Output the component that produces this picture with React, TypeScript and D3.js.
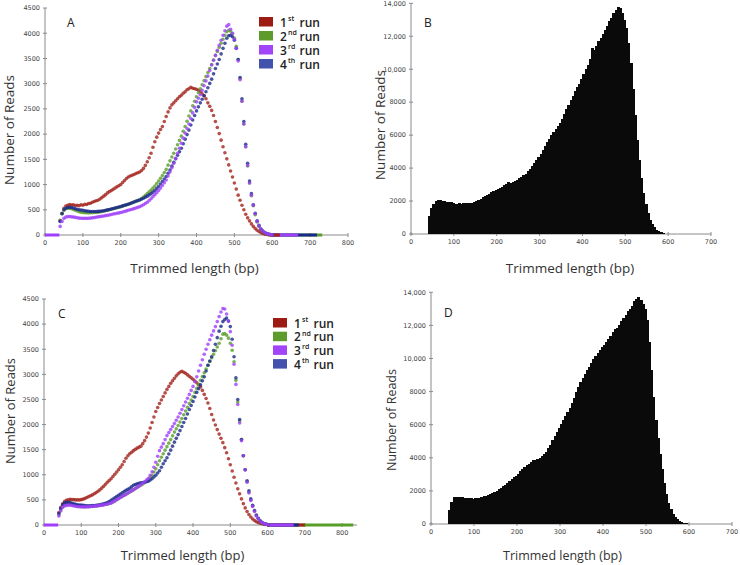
import React from "react";
import * as d3 from "d3";

// read lengths (bp) sampled for the scatter runs, every 5 bp from 40 to 600
const runLengths = d3.range(40, 601, 5);
// histogram bins (bp), 5 bp wide
const binStarts = d3.range(40, 600, 5);

const runLabels = [["1", "st"], ["2", "nd"], ["3", "rd"], ["4", "th"]];
const legendColors = ["#9c1b12", "#5e9b2d", "#a244f7", "#4352ad"];
const pointColors = ["#a3231b", "#5a9e2a", "#a040fb", "#1b2a8c"];

// panel A, number of reads per length
const readsA1 = [
  280, 430, 530, 575, 590, 605, 595, 600, 585, 590,
  580, 600, 590, 610, 605, 625, 630, 650, 665, 680,
  690, 715, 740, 770, 800, 835, 860, 880, 905, 930,
  955, 975, 1000, 1040, 1080, 1120, 1150, 1170, 1185, 1200,
  1220, 1235, 1250, 1280, 1320, 1380, 1450, 1530, 1620, 1740,
  1850, 1940, 2020, 2090, 2150, 2250, 2350, 2440, 2520, 2580,
  2620, 2660, 2700, 2740, 2770, 2810, 2840, 2880, 2900, 2930,
  2910, 2900, 2890, 2870, 2840, 2800, 2760, 2700, 2620, 2550,
  2470, 2370, 2250, 2130, 2010, 1880, 1750, 1630, 1510, 1390,
  1270, 1150, 1030, 910, 790, 690, 590, 500, 410, 340,
  280, 220, 170, 130, 95, 70, 45, 30, 18, 11,
  6, 3, 0,
];
const readsA2 = [
  290, 420, 490, 520, 530, 528, 520, 505, 490, 475,
  460, 450, 445, 442, 440, 438, 440, 442, 445, 448,
  450, 458, 465, 472, 480, 490, 500, 510, 520, 530,
  540, 550, 560, 572, 585, 598, 610, 625, 640, 655,
  670, 685, 700, 725, 750, 785, 820, 855, 890, 930,
  970, 1020, 1070, 1125, 1180, 1240, 1300, 1385, 1470, 1545,
  1620, 1705, 1790, 1875, 1960, 2055, 2150, 2255, 2360, 2460,
  2560, 2650, 2740, 2820, 2900, 2980, 3060, 3140, 3220, 3300,
  3380, 3470, 3560, 3640, 3720, 3800, 3880, 3960, 4030, 4060,
  4040, 3990, 3900, 3740, 3480, 3100, 2650, 2200, 1750, 1370,
  1030, 780, 580, 400, 260, 170, 110, 75, 45, 28,
  15, 9, 5,
];
const readsA3 = [
  170, 270, 330, 355, 365, 365, 360, 355, 350, 342,
  335, 332, 330, 330, 330, 332, 335, 340, 345, 352,
  360, 365, 370, 378, 385, 390, 395, 405, 415, 422,
  430, 438, 445, 455, 465, 478, 490, 500, 510, 522,
  535, 548, 560, 580, 600, 625, 650, 685, 720, 760,
  800, 840, 880, 930, 980, 1035, 1090, 1170, 1250, 1335,
  1420, 1520, 1620, 1720, 1820, 1920, 2020, 2110, 2200, 2310,
  2420, 2530, 2640, 2710, 2780, 2870, 2960, 3055, 3150, 3260,
  3370, 3465, 3560, 3660, 3760, 3860, 3960, 4050, 4140, 4170,
  4080, 4000, 3880, 3700, 3450, 3080, 2650, 2200, 1750, 1380,
  1030, 790, 590, 420, 270, 180, 120, 80, 50, 30,
  18, 10, 6,
];
const readsA4 = [
  270, 420, 500, 530, 545, 548, 545, 535, 520, 510,
  500, 495, 490, 482, 475, 470, 465, 465, 465, 466,
  468, 472, 475, 482, 490, 498, 505, 515, 525, 535,
  545, 555, 565, 578, 590, 600, 610, 625, 640, 655,
  670, 682, 695, 712, 730, 750, 770, 795, 820, 850,
  880, 920, 960, 1010, 1060, 1110, 1160, 1225, 1290, 1365,
  1440, 1510, 1580, 1650, 1720, 1810, 1900, 1990, 2080, 2180,
  2280, 2370, 2460, 2540, 2620, 2690, 2760, 2840, 2920, 3005,
  3090, 3195, 3300, 3390, 3480, 3590, 3700, 3800, 3900, 3950,
  3960, 3930, 3860, 3700, 3480, 3120, 2700, 2250, 1800, 1420,
  1070, 820, 600, 430, 280, 190, 120, 80, 50, 30,
  18, 10, 6,
];

// panel C, number of reads per length
const readsC1 = [
  250, 350, 420, 465, 490, 500, 510, 505, 505, 500,
  500, 500, 505, 515, 530, 548, 565, 582, 600, 622,
  645, 672, 700, 735, 770, 810, 850, 885, 920, 965,
  1010, 1055, 1100, 1150, 1200, 1265, 1330, 1380, 1420, 1450,
  1480, 1505, 1530, 1550, 1570, 1620, 1680, 1750, 1830, 1930,
  2040, 2150, 2260, 2340, 2420, 2490, 2560, 2630, 2700, 2760,
  2820, 2870, 2920, 2970, 3010, 3040, 3060, 3040, 3020, 2990,
  2960, 2930, 2900, 2865, 2830, 2790, 2750, 2680, 2600, 2520,
  2430, 2320, 2200, 2090, 1990, 1900, 1810, 1725, 1640, 1540,
  1440, 1320, 1200, 1075, 950, 835, 720, 620, 520, 425,
  340, 270, 210, 160, 120, 90, 65, 48, 35, 24,
  15, 9, 5,
];
const readsC2 = [
  200, 300, 370, 400, 410, 418, 420, 410, 400, 390,
  380, 375, 370, 368, 365, 365, 365, 368, 370, 375,
  380, 385, 390, 398, 405, 412, 420, 430, 440, 460,
  480, 505, 530, 550, 570, 590, 610, 632, 655, 678,
  700, 725, 750, 770, 790, 815, 840, 870, 900, 945,
  990, 1055, 1120, 1200, 1280, 1350, 1420, 1490, 1560, 1630,
  1700, 1775, 1850, 1915, 1980, 2050, 2120, 2195, 2270, 2345,
  2420, 2490, 2560, 2640, 2720, 2800, 2880, 2955, 3030, 3105,
  3180, 3255, 3330, 3400, 3470, 3545, 3620, 3710, 3800, 3810,
  3780, 3720, 3620, 3480, 3250, 2880, 2450, 2070, 1700, 1380,
  1100, 860, 650, 500, 380, 280, 190, 130, 80, 50,
  30, 18, 10,
];
const readsC3 = [
  180, 280, 350, 380, 390, 395, 395, 388, 380, 372,
  365, 362, 360, 360, 360, 362, 365, 368, 370, 375,
  380, 385, 390, 395, 400, 408, 415, 428, 440, 460,
  480, 502, 525, 548, 570, 590, 610, 635, 660, 680,
  700, 725, 750, 775, 800, 830, 860, 895, 930, 990,
  1060, 1150, 1250, 1370, 1480, 1550, 1620, 1700, 1780, 1840,
  1900, 1960, 2020, 2085, 2150, 2225, 2300, 2375, 2450, 2525,
  2600, 2680, 2760, 2855, 2950, 3065, 3180, 3290, 3400, 3500,
  3600, 3690, 3780, 3865, 3950, 4050, 4150, 4240, 4310, 4300,
  4200, 4060, 3850, 3580, 3200, 2800, 2400, 2030, 1680, 1380,
  1100, 850, 640, 490, 370, 270, 180, 125, 80, 50,
  30, 18, 10,
];
const readsC4 = [
  230, 330, 400, 435, 450, 450, 445, 432, 420, 410,
  400, 398, 395, 390, 385, 382, 380, 382, 385, 388,
  390, 395, 400, 410, 420, 432, 445, 468, 490, 515,
  540, 565, 590, 615, 640, 665, 690, 710, 730, 760,
  790, 805, 820, 830, 840, 845, 850, 860, 870, 895,
  920, 955, 990, 1035, 1080, 1150, 1220, 1280, 1340, 1415,
  1490, 1570, 1650, 1725, 1800, 1880, 1960, 2040, 2120, 2210,
  2300, 2380, 2460, 2550, 2640, 2715, 2790, 2870, 2950, 3065,
  3180, 3265, 3350, 3475, 3600, 3730, 3860, 3955, 4050, 4090,
  4120, 4060, 3950, 3700, 3350, 2930, 2500, 2100, 1700, 1380,
  1100, 880, 680, 520, 390, 290, 200, 135, 85, 55,
  30, 18, 10,
];

// stretches of lengths (bp) where a run sits on zero reads
const zeroRunsA = [
  { run: 2, from: 0, to: 38 },
  { run: 0, from: 590, to: 620 },
  { run: 1, from: 600, to: 732 },
  { run: 3, from: 600, to: 718 },
  { run: 2, from: 600, to: 668 },
];
const zeroRunsC = [
  { run: 2, from: 0, to: 38 },
  { run: 1, from: 600, to: 830 },
  { run: 0, from: 600, to: 700 },
  { run: 3, from: 600, to: 684 },
  { run: 2, from: 600, to: 670 },
];

// panels B and D, histogram counts per 5 bp bin
const readsB = [1100, 1600, 1850, 2000, 2060, 2040, 2000, 1990, 1970, 1960, 1950, 1900, 1830, 1850, 1860, 1850, 1870, 1880, 1860, 1890, 1900, 1960, 2020, 2090, 2150, 2230, 2300, 2380, 2440, 2540, 2620, 2700, 2760, 2820, 2880, 2960, 3050, 3150, 3120, 3180, 3230, 3300, 3380, 3450, 3560, 3660, 3800, 3940, 4100, 4280, 4480, 4680, 4880, 5100, 5320, 5580, 5780, 5980, 6200, 6380, 6560, 6760, 7000, 7280, 7560, 7840, 8120, 8400, 8650, 8900, 9100, 9380, 9700, 10000, 10250, 10600, 11300, 11150, 11400, 11700, 11900, 12150, 12400, 12650, 12900, 13100, 13400, 13600, 13800, 13700, 13400, 13000, 12500, 11600, 10400, 8800, 7200, 5700, 4500, 3400, 2500, 1800, 1250, 850, 580, 400, 260, 160, 100, 55, 25, 10];
const readsD = [850, 1350, 1620, 1660, 1650, 1640, 1620, 1600, 1580, 1560, 1550, 1540, 1550, 1570, 1600, 1630, 1670, 1710, 1760, 1820, 1880, 1940, 2000, 2100, 2190, 2280, 2360, 2460, 2580, 2700, 2820, 2920, 3050, 3180, 3320, 3440, 3550, 3650, 3760, 3840, 3880, 3950, 4010, 4080, 4200, 4380, 4580, 4800, 5050, 5300, 5560, 5820, 6060, 6300, 6540, 6780, 7030, 7300, 7620, 7950, 8250, 8550, 8820, 9050, 9280, 9480, 9700, 9950, 10150, 10350, 10520, 10680, 10820, 11000, 11200, 11380, 11600, 11780, 11850, 12000, 12250, 12450, 12650, 12850, 13000, 13200, 13450, 13600, 13700, 13550, 13300, 13000, 12300, 11000, 9300, 7700, 6300, 5200, 4200, 3300, 2500, 1800, 1250, 880, 600, 430, 300, 200, 130, 75, 35, 12];

const tickFont = "'DejaVu Sans', sans-serif";
const titleFont = "'Open Sans', sans-serif";
const axisColor = "#8a8a8a";

const fmtReads = (v) => (v >= 10000 ? d3.format(",")(v) : String(v));

function Axes({ x, y, xTicks, yTicks, titleX, titleY, titleSize, yTitleX, yTitleY }) {
  const [x0, x1] = x.range();
  const [yb, yt] = y.range();
  return (
    <g>
      <line x1={x0} x2={x1} y1={yb} y2={yb} stroke={axisColor} strokeWidth={1} />
      <line x1={x0} x2={x0} y1={yb} y2={yt} stroke={axisColor} strokeWidth={1} />
      {xTicks.map((t) => (
        <g key={`x${t}`}>
          <line x1={x(t)} x2={x(t)} y1={yb - 2} y2={yb + 2} stroke={axisColor} />
          <text x={x(t)} y={yb + 10} textAnchor="middle" fontSize={6.5} fontFamily={tickFont} fill="#444">
            {t}
          </text>
        </g>
      ))}
      {yTicks.map((t) => (
        <g key={`y${t}`}>
          <line x1={x0 - 2} x2={x0 + 2} y1={y(t)} y2={y(t)} stroke={axisColor} />
          <text x={x0 - 5} y={y(t) + 2.3} textAnchor="end" fontSize={6.5} fontFamily={tickFont} fill="#444">
            {fmtReads(t)}
          </text>
        </g>
      ))}
      <text x={(x0 + x1) / 2 + titleX} y={titleY} textAnchor="middle" fontSize={titleSize} fontFamily={titleFont} fill="#333">
        Trimmed length (bp)
      </text>
      <text
        transform={`translate(${yTitleX},${yTitleY}) rotate(-90)`}
        textAnchor="middle"
        fontSize={titleSize}
        fontFamily={titleFont}
        fill="#333"
      >
        Number of Reads
      </text>
    </g>
  );
}

function ScatterPanel({ letter, left, right, top, bottom, xMax, runs, zeroRuns, legend, titles }) {
  const x = d3.scaleLinear().domain([0, xMax]).range([left, right]);
  const y = d3.scaleLinear().domain([0, 4500]).range([bottom, top]);
  const order = [0, 1, 3, 2];
  const tails = [...zeroRuns].sort((a, b) => (b.to - b.from) - (a.to - a.from));
  return (
    <g>
      <Axes x={x} y={y} xTicks={d3.range(0, 801, 100)} yTicks={d3.range(0, 4501, 500)} {...titles} />
      <text x={letter.x} y={letter.y} fontSize={12} fontFamily={titleFont} fill="#222">{letter.t}</text>
      {tails.map((z, i) => (
        <rect key={`z${i}`} x={x(z.from)} y={y(0) - 1.5} width={x(z.to) - x(z.from)} height={3} fill={pointColors[z.run]} />
      ))}
      {order.map((r) => (
        <g key={`run${r}`} fill={pointColors[r]}>
          {runs[r].map((v, i) => (
            <circle key={i} cx={x(runLengths[i])} cy={y(v)} r={1.8} opacity={0.8} />
          ))}
        </g>
      ))}
      {runLabels.map(([n, s], i) => (
        <g key={`lg${i}`} transform={`translate(${legend.x},${legend.y + i * legend.step})`}>
          <rect x={0} y={0} width={14} height={9.5} fill={legendColors[i]} />
          <text x={21} y={9.5} fontSize={12} fontFamily={titleFont} fontWeight={600} fill="#222">{n}</text>
          <text x={29} y={4} fontSize={7} fontFamily={titleFont} fontWeight={600} fill="#222">{s}</text>
          <text x={40.5} y={9.5} fontSize={12} fontFamily={titleFont} fontWeight={600} fill="#222">run</text>
        </g>
      ))}
    </g>
  );
}

function HistPanel({ letter, left, right, top, bottom, counts, titles }) {
  const x = d3.scaleLinear().domain([0, 700]).range([left, right]);
  const y = d3.scaleLinear().domain([0, 14000]).range([bottom, top]);
  return (
    <g>
      <Axes x={x} y={y} xTicks={d3.range(0, 701, 100)} yTicks={d3.range(0, 14001, 2000)} {...titles} />
      <text x={letter.x} y={letter.y} fontSize={12} fontFamily={titleFont} fill="#222">{letter.t}</text>
      <g shapeRendering="crispEdges">
        {counts.map((v, i) => (
          <rect
            key={i}
            x={x(binStarts[i])}
            y={y(v)}
            width={x(binStarts[i] + 5) - x(binStarts[i]) + 0.8}
            height={y(0) - y(v)}
            fill="#0a0a0a"
          />
        ))}
      </g>
    </g>
  );
}

export default function App() {
  return (
    <svg width={740} height={565} style={{ position: "absolute", left: 0, top: 0, background: "#fff" }}>
      <ScatterPanel
        letter={{ t: "A", x: 67, y: 27 }}
        left={45}
        right={348}
        top={8}
        bottom={235}
        xMax={800}
        runs={[readsA1, readsA2, readsA3, readsA4]}
        zeroRuns={zeroRunsA}
        legend={{ x: 259, y: 17, step: 14 }}
        titles={{ titleX: -2, titleY: 273, titleSize: 13.5, yTitleX: 14, yTitleY: 130 }}
      />
      <HistPanel
        letter={{ t: "B", x: 424, y: 27 }}
        left={411}
        right={711}
        top={3.3}
        bottom={234}
        counts={readsB}
        titles={{ titleX: 9, titleY: 273, titleSize: 13.5, yTitleX: 385, yTitleY: 125 }}
      />
      <ScatterPanel
        letter={{ t: "C", x: 58, y: 318 }}
        left={44}
        right={357}
        top={299}
        bottom={525}
        xMax={840}
        runs={[readsC1, readsC2, readsC3, readsC4]}
        zeroRuns={zeroRunsC}
        legend={{ x: 273, y: 318, step: 13.7 }}
        titles={{ titleX: -18, titleY: 560, titleSize: 13, yTitleX: 15, yTitleY: 411 }}
      />
      <HistPanel
        letter={{ t: "D", x: 444, y: 317 }}
        left={431}
        right={732}
        top={292.3}
        bottom={524}
        counts={readsD}
        titles={{ titleX: -19, titleY: 560, titleSize: 12.5, yTitleX: 396, yTitleY: 420 }}
      />
    </svg>
  );
}
